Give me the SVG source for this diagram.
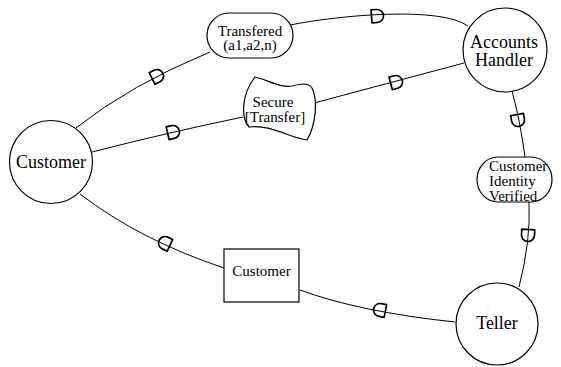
<svg xmlns="http://www.w3.org/2000/svg" width="561" height="367" viewBox="0 0 561 367">
  <style>
    .node { fill: #fff; stroke: #000; stroke-width: 1.2; }
    .edge { fill: none; stroke: #000; stroke-width: 1; }
    .flow { fill: none; stroke: #000; stroke-width: 1.7; stroke-linejoin: round; }
    text { font-family: "Liberation Serif", "Times New Roman", serif; fill: #000; }
    .big { font-size: 18px; }
    .small { font-size: 15px; }
  </style>
  <defs>
    <!-- data-flow marker: flat back, round nose pointing along +x -->
    <path id="flow" class="flow" d="M-5.5,-6.5 H0 A6.5,6.5 0 0 1 0,6.5 H-5.5 Z"/>
  </defs>

  <g id="connectors">
    <path class="edge" d="M76,128 Q130,85 210,52"/>
    <path class="edge" d="M290,25 C340,15 440,6 468,26"/>
    <path class="edge" d="M92,152 Q170,132 243,117"/>
    <path class="edge" d="M314,103 L464,63"/>
    <path class="edge" d="M512,91 Q520,120 525,157"/>
    <path class="edge" d="M529,202 Q531,240 519,287"/>
    <path class="edge" d="M80,194 Q140,240 224,268"/>
    <path class="edge" d="M300,290 Q360,312 455,322"/>
    <use href="#flow" transform="translate(157,76) rotate(-27)"/>
    <use href="#flow" transform="translate(377,16) rotate(-4)"/>
    <use href="#flow" transform="translate(173,132) rotate(-13)"/>
    <use href="#flow" transform="translate(396,82) rotate(-15)"/>
    <use href="#flow" transform="translate(518,120) rotate(80)"/>
    <use href="#flow" transform="translate(528,235) rotate(93)"/>
    <use href="#flow" transform="translate(165,243) rotate(205)"/>
    <use href="#flow" transform="translate(380,310) rotate(191)"/>
  </g>

  <g id="customer">
    <circle class="node" cx="51" cy="162" r="41.5"/>
    <text class="big" x="51" y="168" text-anchor="middle">Customer</text>
  </g>

  <g id="accounts-handler">
    <circle class="node" cx="505" cy="50" r="42"/>
    <text class="big" x="504" y="48" text-anchor="middle">Accounts</text>
    <text class="big" x="504" y="66" text-anchor="middle">Handler</text>
  </g>

  <g id="teller">
    <circle class="node" cx="497" cy="324" r="41"/>
    <text class="big" x="497" y="329" text-anchor="middle">Teller</text>
  </g>

  <g id="transfered">
    <rect class="node" x="207" y="13" width="86" height="45" rx="22" ry="22.5"/>
    <text class="small" x="250" y="36" text-anchor="middle">Transfered</text>
    <text class="small" x="250" y="50" text-anchor="middle">(a1,a2,n)</text>
  </g>

  <g id="secure-transfer">
    <path class="node" d="M255,77 C268,80 280,88 292,86 C300,84 308,82 312,88 C318,100 316,125 307,140 C290,138 270,124 249,127 C241,118 241,95 255,77 Z"/>
    <text class="small" x="273" y="107" text-anchor="middle">Secure</text>
    <text class="small" x="275" y="122" text-anchor="middle">[Transfer]</text>
  </g>

  <g id="identity-verified">
    <rect class="node" x="477" y="157" width="75" height="45" rx="21" ry="22.5"/>
    <text class="small" x="489" y="171">Customer</text>
    <text class="small" x="489" y="186">Identity</text>
    <text class="small" x="489" y="201">Verified</text>
  </g>

  <g id="customer-record">
    <rect class="node" x="224" y="249" width="75" height="53"/>
    <text class="small" x="261.5" y="276" text-anchor="middle">Customer</text>
  </g>
</svg>
